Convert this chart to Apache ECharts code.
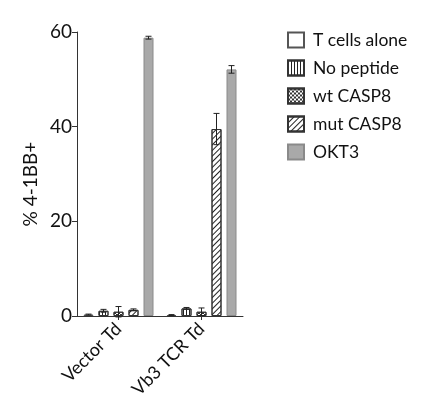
<!DOCTYPE html>
<html><head><meta charset="utf-8">
<script src="https://cdn.jsdelivr.net/npm/echarts@6/dist/echarts.min.js"></script>
<style>html,body{margin:0;padding:0;background:#fff}#c{width:426px;height:418px}</style>
</head><body><div id="c"></div>
<script>
const categories = ['Vector Td', 'Vb3 TCR Td'];
const seriesNames = ['T cells alone', 'No peptide', 'wt CASP8', 'mut CASP8', 'OKT3'];
const tCellsAlone = [0.3, 0.2];
const noPeptide = [1.1, 1.6];
const wtCASP8 = [0.9, 0.9];
const mutCASP8 = [1.3, 39.5];
const okt3 = [58.8, 52.1];
const errTCellsAlone = [0.1, 0.1];
const errNoPeptide = [0.3, 0.2];
const errWtCASP8 = [1.1, 0.8];
const errMutCASP8 = [0.2, 3.3];
const errOkt3 = [0.3, 0.8];
const yTicks = [0, 20, 40, 60];

const values = [tCellsAlone, noPeptide, wtCASP8, mutCASP8, okt3];
const errors = [errTCellsAlone, errNoPeptide, errWtCASP8, errMutCASP8, errOkt3];

const FONT = 'Lato, "Open Sans", sans-serif';
const decals = [
  null,
  {symbol:'rect', symbolSize:1, color:'#222', dashArrayX:[1,2], dashArrayY:[5,0], rotation:0},
  {symbol:'rect', symbolSize:1, color:'#333', dashArrayX:[[2,2],[0,2,2,0]], dashArrayY:[2,0], rotation:0},
  {symbol:'rect', symbolSize:1, color:'#222', dashArrayX:[5,0], dashArrayY:[1,3], rotation:-Math.PI/4},
  null
];
const fills = ['#ffffff', '#ffffff', '#ffffff', '#ffffff', '#a9a9a9'];
const borders = ['#555', '#333', '#333', '#333', '#8a8a8a'];

const barWidth = 10, step = 15;
const series = [];
values.forEach((vals, i) => {
  const it = {color: fills[i], borderColor: borders[i], borderWidth: 1};
  if (decals[i]) it.decal = decals[i];
  series.push({
    name: seriesNames[i], type: 'bar', data: vals, barWidth: barWidth, barGap: '50%',
    itemStyle: it, emphasis: {disabled: true}
  });
});
const errData = [];
values.forEach((vals, i) => vals.forEach((v, j) => errData.push([j, v, errors[i][j], i])));
series.push({
  type: 'custom', silent: true, clip: false, z: 10,
  data: errData,
  renderItem: function (params, api) {
    const cat = api.value(0), v = api.value(1), e = api.value(2), k = api.value(3);
    const c = api.coord([cat, v]);
    const off = (k - 2) * step;
    const x = c[0] + off;
    const top = api.coord([cat, v + e])[1];
    const bot = api.coord([cat, v - e])[1];
    const hw = 3;
    const st = {stroke: '#222', lineWidth: 1};
    return {type: 'group', children: [
      {type: 'line', shape: {x1: x, y1: top, x2: x, y2: bot}, style: st},
      {type: 'line', shape: {x1: x - hw, y1: top, x2: x + hw, y2: top}, style: st},
      {type: 'line', shape: {x1: x - hw, y1: bot, x2: x + hw, y2: bot}, style: st}
    ]};
  }
});

const chart = echarts.init(document.getElementById('c'), null, {renderer: 'canvas'});
chart.setOption({
  animation: false,
  backgroundColor: '#fff',
  grid: {left: 77, right: 183, top: 32, bottom: 102, containLabel: false},
  legend: {
    data: seriesNames.map(n => ({name: n, icon: 'rect'})), orient: 'vertical', left: 287, top: 31,
    itemWidth: 16, itemHeight: 15, itemGap: 10, padding: 0,
    textStyle: {fontFamily: FONT, fontSize: 17.5, color: '#111', lineHeight: 15, padding: [0, 0, 0, 4]},
    selectedMode: false
  },
  xAxis: {
    type: 'category', data: categories,
    axisLine: {lineStyle: {color: '#333', width: 1}},
    axisTick: {show: true, alignWithLabel: true, length: 4, lineStyle: {color: '#333'}},
    axisLabel: {rotate: 45, fontFamily: FONT, fontSize: 18, color: '#111', margin: 10}
  },
  yAxis: {
    type: 'value', min: 0, max: 60, interval: 20,
    name: '% 4-1BB+', nameLocation: 'middle', nameGap: 37,
    nameTextStyle: {fontFamily: FONT, fontSize: 19, color: '#111', padding: [0, 20, 0, 0]},
    axisLine: {show: true, lineStyle: {color: '#333', width: 1}},
    axisTick: {show: true, length: 5, lineStyle: {color: '#333'}},
    axisLabel: {fontFamily: FONT, fontSize: 19, color: '#111', margin: 5,
      formatter: v => yTicks.includes(v) ? String(v) : ''},
    splitLine: {show: false}
  },
  series: series
});
</script></body></html>
